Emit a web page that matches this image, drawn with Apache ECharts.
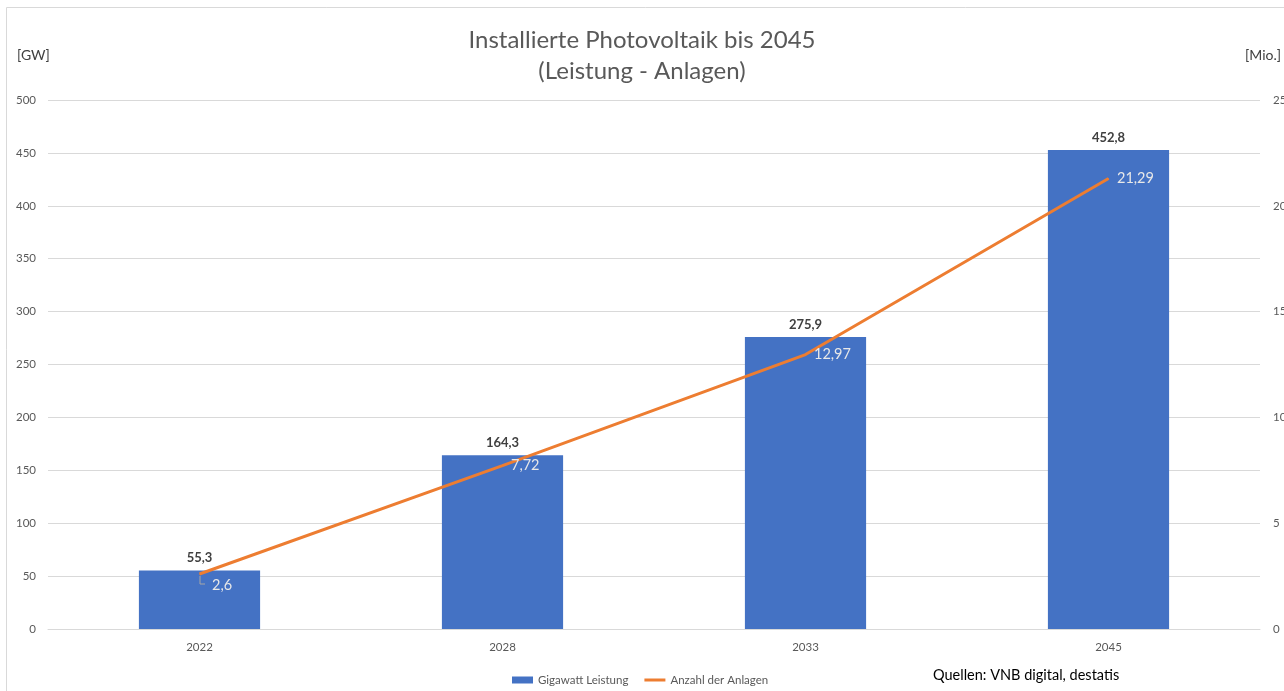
<!DOCTYPE html>
<html>
<head>
<meta charset="utf-8">
<title>Installierte Photovoltaik bis 2045</title>
<script src="https://cdn.jsdelivr.net/npm/echarts@6/dist/echarts.min.js"></script>
<style>
  html, body { margin: 0; padding: 0; background: #fff; }
  #chart { width: 1284px; height: 691px; }
</style>
</head>
<body>
<div id="chart"></div>
<script>
// Daten
var years = ['2022', '2028', '2033', '2045'];
var leistungGW = [55.3, 164.3, 275.9, 452.8];      // Gigawatt Leistung
var anlagenMio = [2.6, 7.72, 12.97, 21.29];        // Anzahl der Anlagen (Mio.)
var gwTicks = [0, 500, 50];                        // min, max, interval
var mioTicks = [0, 25, 5];

var fontFam = 'Lato, "Open Sans", sans-serif';
var grey = '#595959';

function deNum(v) { // Komma als Dezimaltrenner
  return String(v).replace('.', ',');
}

var myChart = echarts.init(document.getElementById('chart'));

var option = {
  animation: false,
  textStyle: { fontFamily: fontFam },
  title: {
    text: 'Installierte Photovoltaik bis 2045\n(Leistung - Anlagen)',
    left: 'center',
    top: 20,
    textStyle: { fontSize: 24, fontWeight: 'normal', color: grey, lineHeight: 31, fontFamily: fontFam }
  },
  grid: { left: 48, right: 24, top: 100, bottom: 62, outerBoundsMode: 'none' },
  legend: {
    left: 507,
    top: 669,
    itemWidth: 21,
    itemHeight: 7,
    itemGap: 16,
    textStyle: { fontSize: 11.5, color: grey, fontFamily: fontFam },
    data: [
      { name: 'Gigawatt Leistung', icon: 'rect' },
      { name: 'Anzahl der Anlagen', icon: 'path://M0,0L21,0L21,3L0,3Z' }
    ]
  },
  xAxis: {
    type: 'category',
    data: years,
    axisLine: { lineStyle: { color: '#d9d9d9' } },
    axisTick: { show: false },
    axisLabel: { color: grey, fontSize: 11.5, margin: 12 }
  },
  yAxis: [
    {
      type: 'value',
      min: gwTicks[0], max: gwTicks[1], interval: gwTicks[2],
      axisLabel: { color: grey, fontSize: 11.5, margin: 12 },
      splitLine: { lineStyle: { color: '#d9d9d9', width: 1 } },
      axisLine: { show: false }, axisTick: { show: false }
    },
    {
      type: 'value',
      min: mioTicks[0], max: mioTicks[1], interval: mioTicks[2],
      axisLabel: { color: grey, fontSize: 11.5, margin: 13 },
      splitLine: { show: false },
      axisLine: { show: false }, axisTick: { show: false }
    }
  ],
  series: [
    {
      name: 'Gigawatt Leistung',
      type: 'bar',
      data: leistungGW,
      barWidth: '40%',
      itemStyle: { color: '#4472C4' },
      label: {
        show: true,
        position: 'top',
        distance: 6,
        fontSize: 13,
        fontWeight: 'bold',
        color: '#404040',
        formatter: function (p) { return deNum(p.value); }
      }
    },
    {
      name: 'Anzahl der Anlagen',
      type: 'line',
      yAxisIndex: 1,
      data: anlagenMio.map(function (v, i) {
        var d = { value: v };
        if (i === 0) d.label = { offset: [4, 11] };
        return d;
      }),
      symbol: 'circle',
      symbolSize: 1,
      showSymbol: true,
      lineStyle: { color: '#ED7D31', width: 3 },
      itemStyle: { color: '#ED7D31' },
      label: {
        show: true,
        position: 'right',
        distance: 8,
        fontSize: 14.5,
        color: '#e8e8e8',
        formatter: function (p) { return deNum(p.value); }
      },
      z: 3
    }
  ],
  graphic: [
    { // Rahmen
      type: 'rect',
      silent: true,
      shape: { x: 6.5, y: 7.5, width: 1300, height: 700 },
      style: { fill: 'none', stroke: '#d9d9d9', lineWidth: 1 }
    },
    { // Hinweislinie zum Wert 2,6
      type: 'polyline',
      silent: true,
      shape: { points: [[200, 576], [200, 584], [205, 584]] },
      style: { stroke: '#a6a6a6', lineWidth: 1, fill: 'none' },
      z: 10
    },
    { type: 'text', left: 17, top: 48, style: { text: '[GW]', fill: '#404040', font: '14px ' + fontFam } },
    { type: 'text', left: 1245, top: 48, style: { text: '[Mio.]', fill: '#404040', font: '14px ' + fontFam } },
    { type: 'text', left: 933, top: 668, style: { text: 'Quellen: VNB digital, destatis', fill: '#000', font: '14.5px ' + fontFam } }
  ]
};

myChart.setOption(option);
</script>
</body>
</html>
